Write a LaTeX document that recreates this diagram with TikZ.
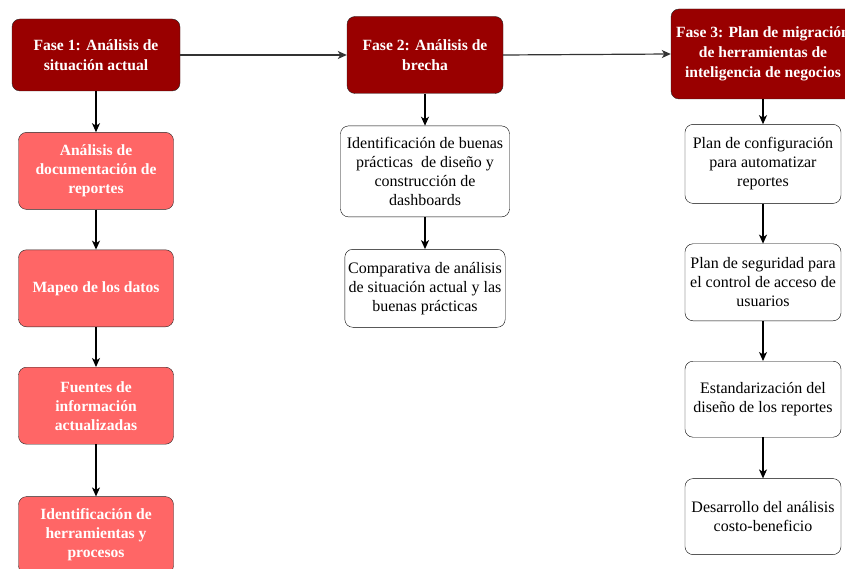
\documentclass[tikz,border=0pt]{standalone}
\usepackage{fontspec}
\setmainfont{Liberation Serif}
\usetikzlibrary{arrows.meta, positioning}

\definecolor{fasered}{HTML}{990000}
\definecolor{pasored}{HTML}{FF6666}

\begin{document}
\begin{tikzpicture}[x=1pt, y=1pt, node distance=40pt]
        \tikzstyle{fase} = [rectangle, rounded corners=8pt, text centered, align=center, draw=black!85, fill=fasered, text=white, font=\fontsize{15.6}{20}\selectfont\bfseries]
        \tikzstyle{paso} = [rectangle, rounded corners=8pt, minimum width=155pt, minimum height=77pt, text centered, align=center, draw=black!85, fill=pasored, text=white, font=\fontsize{15.6}{19}\selectfont\bfseries]
        \tikzstyle{tarea} = [rectangle, rounded corners=8pt, minimum width=156pt, minimum height=77pt, text centered, align=center, draw=black, fill=white, font=\fontsize{16}{19}\selectfont]
        \tikzstyle{arrow} = [line width=1.2pt,-{Stealth[length=9pt,width=8pt,inset=2.5pt]}]

        \useasboundingbox (0,0) rectangle (845,-569);

        % fases
        \node (fase1) [fase, minimum width=168pt, minimum height=72pt] at (96,-55) {Fase 1: Análisis de\\situación actual};
        \node (fase2) [fase, minimum width=156pt, minimum height=77pt] at (425,-55) {Fase 2: Análisis de\\brecha};
        \node (fase3) [fase, minimum width=184pt, minimum height=90pt] at (763,-54) {Fase 3: Plan de migración\\de herramientas de\\inteligencia de negocios};

        % fase 1
        \node (doc) [paso, below=41pt of fase1] {Análisis de\\documentación de\\reportes};
        \node (mapeo) [paso, below=of doc] {Mapeo de los datos};
        \node (fuentes) [paso, below=of mapeo] {Fuentes de\\información\\actualizadas};
        \node (herram) [paso, below=52pt of fuentes] {Identificación de\\herramientas y\\procesos};

        % fase 2
        \node (buenas) [tarea, minimum width=169pt, minimum height=91pt, below=32pt of fase2] {Identificación de buenas\\prácticas\ \ de diseño y\\construcción de\\dashboards};
        \node (compara) [tarea, minimum width=157pt, minimum height=78pt, below=32pt of buenas] {Comparativa de análisis\\de situación actual y las\\buenas prácticas};

        % fase 3
        \node (config) [tarea, minimum height=79pt, below=25pt of fase3] {Plan de configuración\\para automatizar\\reportes};
        \node (segur) [tarea, below=of config] {Plan de seguridad para\\el control de acceso de\\usuarios};
        \node (estand) [tarea, minimum height=76pt, below=of segur] {Estandarización del\\diseño de los reportes};
        \node (costo) [tarea, minimum height=76pt, below=41pt of estand] {Desarrollo del análisis\\costo-beneficio};

        \draw [arrow, draw=black!80] (fase1.east) -- (fase2.west);
        \draw [arrow, draw=black!80] (fase2.east) -- (fase3.west);
        \draw [arrow] (fase1) -- (doc);
        \draw [arrow] (doc) -- (mapeo);
        \draw [arrow] (mapeo) -- (fuentes);
        \draw [arrow] (fuentes) -- (herram);
        \draw [arrow] (fase2) -- (buenas);
        \draw [arrow] (buenas) -- (compara);
        \draw [arrow] (fase3) -- (config);
        \draw [arrow] (config) -- (segur);
        \draw [arrow] (segur) -- (estand);
        \draw [arrow] (estand) -- (costo);
    \end{tikzpicture}
\end{document}
